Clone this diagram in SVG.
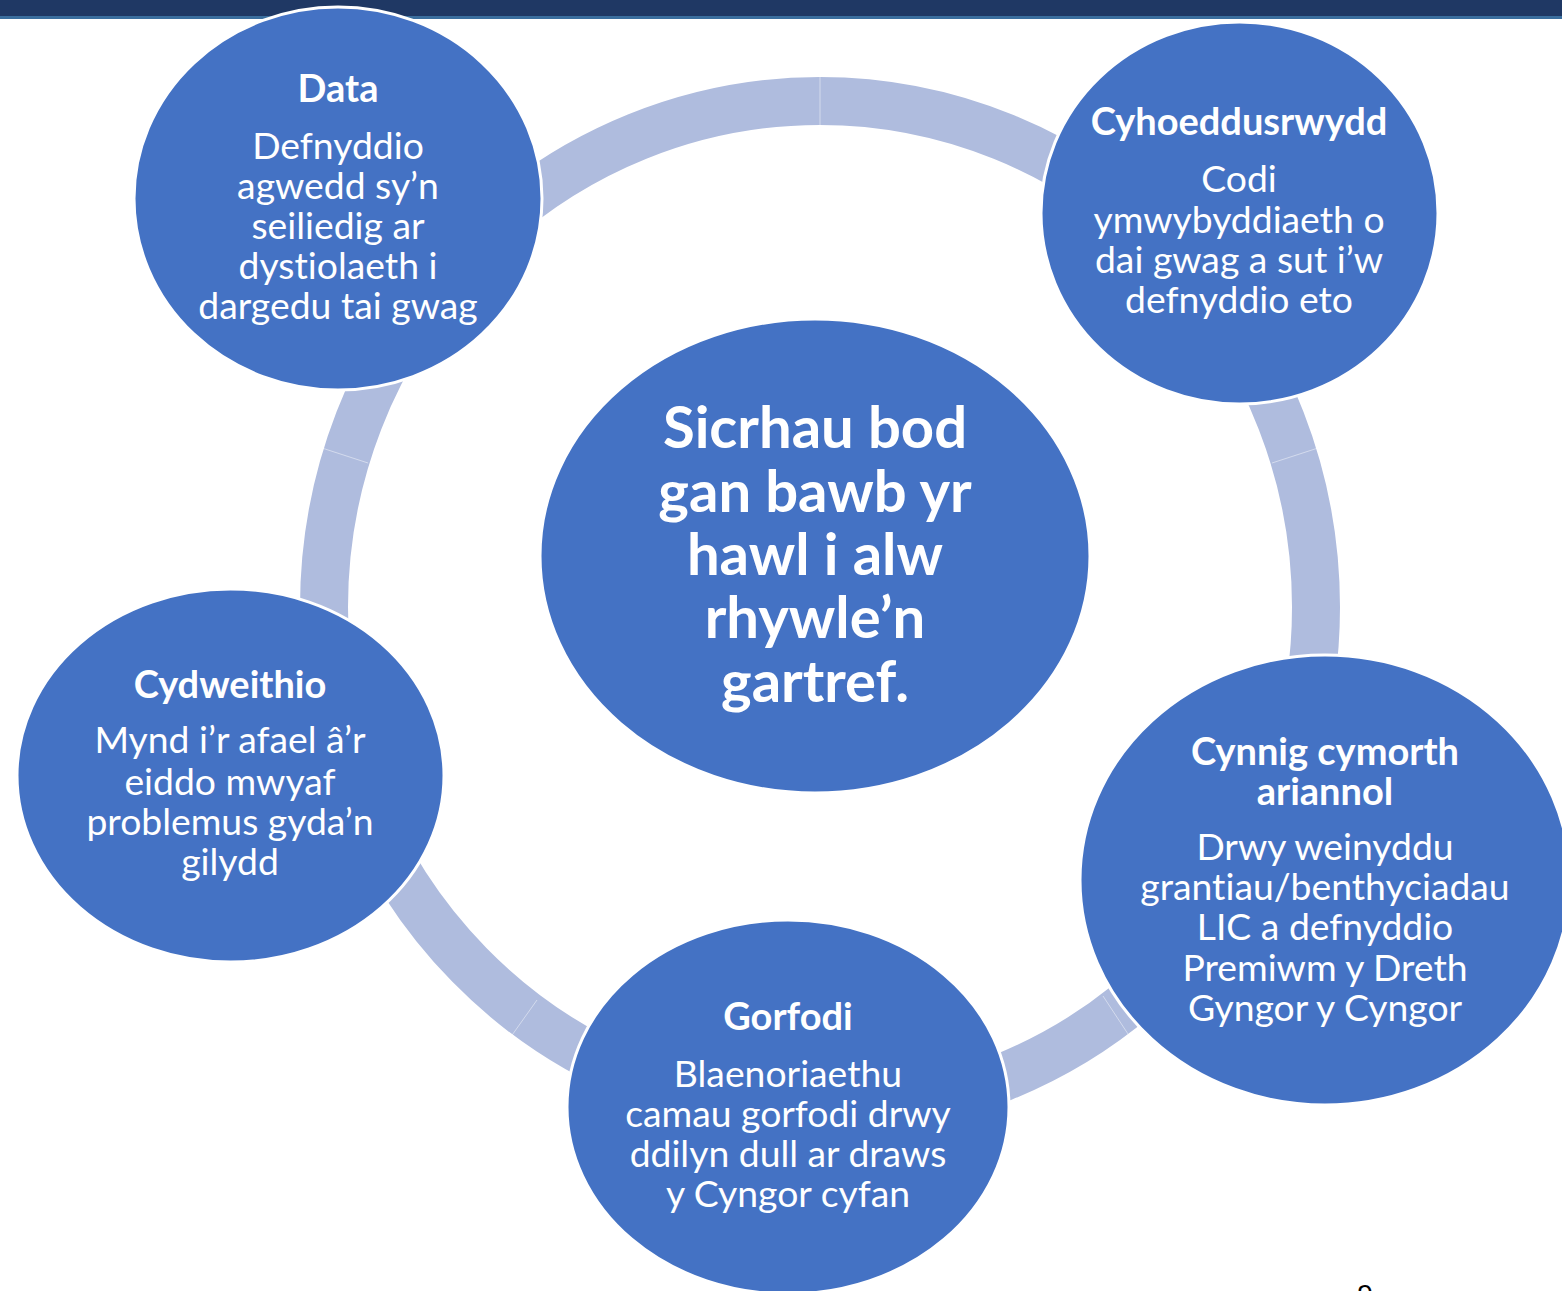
<svg xmlns="http://www.w3.org/2000/svg" width="1562" height="1291" viewBox="0 0 1562 1291">
<style>
.node{fill:#4472C4;stroke:#FFFFFF;stroke-width:3}
.t{font-family:Lato,"Open Sans","Liberation Sans",sans-serif;fill:#FFFFFF;text-anchor:middle;font-variant-ligatures:none;font-feature-settings:"liga" 0}
.h{font-weight:700;font-size:38px}
.b{font-weight:400;font-size:37.3px}
.c{font-weight:700;font-size:58px}
.ring{fill:none;stroke:#AFBCDE;stroke-width:48}
.seam{stroke:#FFFFFF;stroke-opacity:0.45;stroke-width:1}
</style>
<rect x="0" y="0" width="1562" height="17" fill="#1F3864"/>
<rect x="0" y="16" width="1562" height="3" fill="#3A6E9E"/>
<g id="connectors">
<ellipse class="ring" cx="820" cy="607" rx="496" ry="506"/>
<line class="seam" x1="820" y1="77" x2="820" y2="125"/>
<line class="seam" x1="322" y1="448" x2="368" y2="463"/>
<line class="seam" x1="1318" y1="448" x2="1272" y2="463"/>
<line class="seam" x1="537" y1="1000" x2="510" y2="1038"/>
<line class="seam" x1="1103" y1="996" x2="1130" y2="1037"/>
</g>
<g id="center">
<ellipse class="node" cx="815" cy="556" rx="275" ry="237"/>
<text class="t c"><tspan x="815" y="448">Sicrhau bod</tspan><tspan x="815" y="512">gan bawb yr</tspan><tspan x="815" y="575">hawl i alw</tspan><tspan x="815" y="638">rhywle’n</tspan><tspan x="815" y="702">gartref.</tspan></text>
</g>
<g id="data">
<ellipse class="node" cx="338" cy="198.5" rx="204" ry="191.5"/>
<text class="t h" x="338" y="102">Data</text>
<text class="t b"><tspan x="338" y="159">Defnyddio</tspan><tspan x="338" y="199">agwedd sy’n</tspan><tspan x="338" y="239">seiliedig ar</tspan><tspan x="338" y="279">dystiolaeth i</tspan><tspan x="338" y="319">dargedu tai gwag</tspan></text>
</g>
<g id="cyhoeddusrwydd">
<ellipse class="node" cx="1239.5" cy="213" rx="198.5" ry="191"/>
<text class="t h" x="1239" y="135">Cyhoeddusrwydd</text>
<text class="t b"><tspan x="1239" y="192">Codi</tspan><tspan x="1239" y="233">ymwybyddiaeth o</tspan><tspan x="1239" y="273">dai gwag a sut i’w</tspan><tspan x="1239" y="313">defnyddio eto</tspan></text>
</g>
<g id="cynnig">
<ellipse class="node" cx="1325" cy="880" rx="245" ry="225"/>
<text class="t h"><tspan x="1325" y="765">Cynnig cymorth</tspan><tspan x="1325" y="805">ariannol</tspan></text>
<text class="t b"><tspan x="1325" y="860">Drwy weinyddu</tspan><tspan x="1325" y="900">grantiau/benthyciadau</tspan><tspan x="1325" y="940">LIC a defnyddio</tspan><tspan x="1325" y="981">Premiwm y Dreth</tspan><tspan x="1325" y="1021">Gyngor y Cyngor</tspan></text>
</g>
<g id="gorfodi">
<ellipse class="node" cx="788" cy="1107" rx="221" ry="187"/>
<text class="t h" x="788" y="1030">Gorfodi</text>
<text class="t b"><tspan x="788" y="1087">Blaenoriaethu</tspan><tspan x="788" y="1127">camau gorfodi drwy</tspan><tspan x="788" y="1167">ddilyn dull ar draws</tspan><tspan x="788" y="1207">y Cyngor cyfan</tspan></text>
</g>
<g id="cydweithio">
<ellipse class="node" cx="230.5" cy="775.5" rx="213.5" ry="186.5"/>
<text class="t h" x="230" y="698">Cydweithio</text>
<text class="t b"><tspan x="230" y="753">Mynd i’r afael â’r</tspan><tspan x="230" y="795">eiddo mwyaf</tspan><tspan x="230" y="835">problemus gyda’n</tspan><tspan x="230" y="875">gilydd</tspan></text>
</g>
<text x="1365" y="1304" font-family="Liberation Sans, sans-serif" font-size="28" text-anchor="middle" fill="#000000">9</text>
</svg>
